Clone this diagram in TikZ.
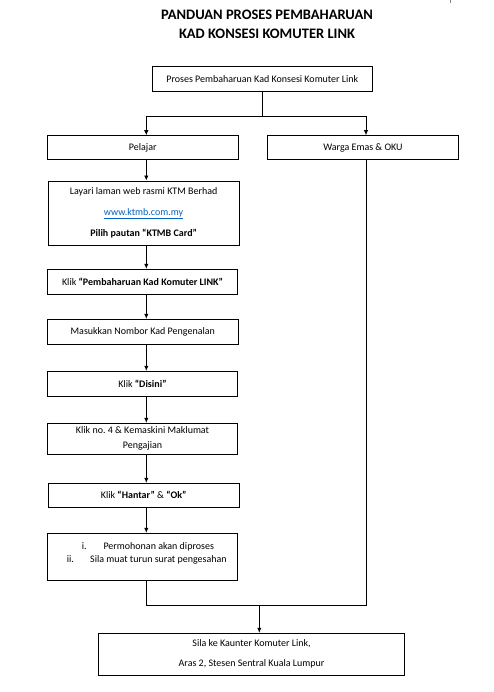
\documentclass[tikz,border=0pt]{standalone}
\usepackage{fontspec}
\setmainfont{Carlito}
\usetikzlibrary{arrows.meta}
\definecolor{linkblue}{HTML}{0563C1}
\frenchspacing
\begin{document}
\begin{tikzpicture}[x=1pt,y=-1pt,
  box/.style={draw=black,line width=0.9pt,inner sep=0pt,align=center,font=\fontsize{10}{12}\selectfont},
  conn/.style={line width=0.9pt,draw=black},
  arr/.style={conn,-{Latex[length=5pt,width=4.5pt]}},
  lbl/.style={inner sep=0pt,font=\fontsize{10}{12}\selectfont}]
\useasboundingbox[fill=white] (0,0) rectangle (494,692);
\draw[gray,line width=1pt] (450,0) -- (450,3);
% title
\node[inner sep=0pt,align=center,font=\fontsize{14.5}{19}\selectfont\bfseries] (title) at (267,24.5)
  {PANDUAN PROSES PEMBAHARUAN\\KAD KONSESI KOMUTER LINK};
% boxes: centre, size
\newcommand{\bx}[6]{\node[box,minimum width={#4-#2},minimum height={#5-#3}] (#1) at ({(#2+#4)/2},{(#3+#5)/2}) {#6};}
\bx{top}{152.3}{66.3}{372.3}{91.3}{Proses Pembaharuan Kad Konsesi Komuter Link}
\bx{pel}{47.3}{135.7}{238.3}{159.7}{Pelajar}
\bx{wrg}{267.3}{135.7}{458.7}{159.7}{Warga Emas \& OKU}
\node[box,font=\fontsize{10}{21}\selectfont,minimum width=190.7,minimum height=64] (lay) at (143.6,213)
  {Layari laman web rasmi KTM Berhad\\\textcolor{linkblue}{\underline{www.ktmb.com.my}}\\\textbf{Pilih pautan “KTMB Card”}};
\bx{kpk}{47.3}{269.3}{237.7}{294.3}{Klik \textbf{“Pembaharuan Kad Komuter LINK”}}
\bx{mas}{47.3}{319.3}{238.3}{344.3}{Masukkan Nombor Kad Pengenalan}
\bx{dis}{47.3}{371.3}{237.7}{396}{Klik \textbf{“Disini”}}
\node[box,font=\fontsize{10}{15}\selectfont,minimum width=190.4,minimum height=31] (kem) at (142.5,438.8)
  {Klik no. 4 \& Kemaskini Maklumat\\Pengajian};
\bx{han}{48.3}{483.3}{239}{507.3}{Klik \textbf{“Hantar”} \& \textbf{“Ok”}}
\bx{lst}{47.3}{533.3}{237.7}{580}{}
\node[lbl,anchor=base west] (l1n) at (81.7,549.5) {i.};
\node[lbl,anchor=base west] (l1t) at (103.3,549.5) {Permohonan akan diproses};
\node[lbl,anchor=base west] (l2n) at (66.7,562.7) {ii.};
\node[lbl,anchor=base west] (l2t) at (90,562.7) {Sila muat turun surat pengesahan};
\node[box,font=\fontsize{10}{20}\selectfont,minimum width=306.4,minimum height=42] (fin) at (251.5,654.3)
  {Sila ke Kaunter Komuter Link,\\Aras 2, Stesen Sentral Kuala Lumpur};
% connectors
\coordinate (split) at (262,116);
\coordinate (sl) at (146.3,116);
\coordinate (sr) at (366,116);
\draw[conn] (top.south -| split) -- (split);
\draw[conn] (sl) -- (sr);
\draw[arr] (sl) -- (sl |- pel.north);
\draw[arr] (sr) -- (sr |- wrg.north);
\draw[arr] (sl |- pel.south) -- (sl |- lay.north);
\draw[arr] (sl |- lay.south) -- (sl |- kpk.north);
\draw[arr] (sl |- kpk.south) -- (sl |- mas.north);
\draw[arr] (sl |- mas.south) -- (sl |- dis.north);
\draw[arr] (sl |- dis.south) -- (sl |- kem.north);
\draw[arr] (sl |- kem.south) -- (sl |- han.north);
\draw[arr] (sl |- han.south) -- (sl |- lst.north);
\coordinate (ml) at (146.3,605.3);
\coordinate (mr) at (366,605.3);
\coordinate (mm) at (259.3,605.3);
\draw[conn] (sl |- lst.south) -- (ml) -- (mr) -- (sr |- wrg.south);
\draw[arr] (mm) -- (mm |- fin.north);
\end{tikzpicture}
\end{document}
